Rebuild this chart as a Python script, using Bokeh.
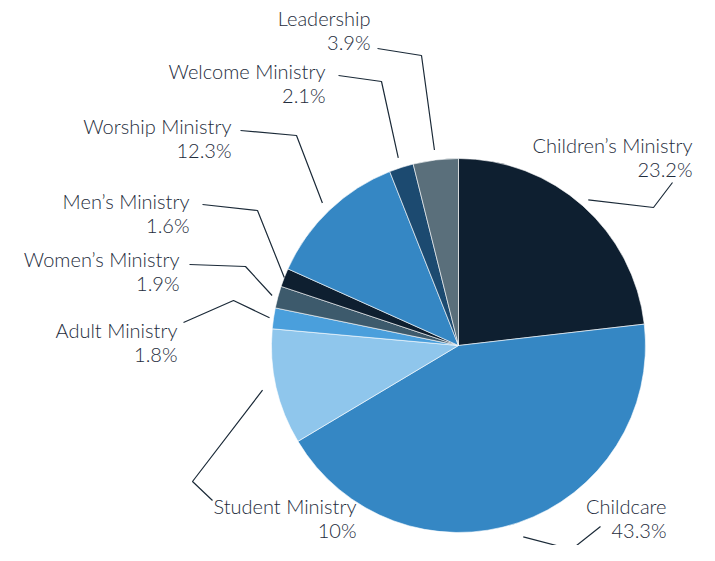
import numpy as np
from bokeh.plotting import figure
from bokeh.models import Range1d, ColumnDataSource
from bokeh.core.properties import value
from bokeh.embed import file_html
from bokeh.resources import INLINE

# ---- data ----
categories = ["Children\u2019s Ministry", "Childcare", "Student Ministry", "Adult Ministry",
              "Women\u2019s Ministry", "Men\u2019s Ministry", "Worship Ministry",
              "Welcome Ministry", "Leadership"]
shares = [23.2, 43.3, 10.0, 1.8, 1.9, 1.6, 12.3, 2.1, 3.9]
pct_labels = ["23.2%", "43.3%", "10%", "1.8%", "1.9%", "1.6%", "12.3%", "2.1%", "3.9%"]
colors = ["#0e1f30", "#3587c4", "#8fc6ec", "#4a9fdc", "#3d5a6c",
          "#0e1f30", "#3587c4", "#1c4a70", "#5a6f7b"]

# ---- layout (pixel coordinates, top-left origin) ----
W, H = 699, 545
SHIFT = -3
CX, CY, R = 458, 348, 187
gaps = [8, 15, 14, 4, 6, 0, 10, 10, 10]
elbows = [(653, 210), (571, 552), (192, 484), (233, 303), (245, 269),
          (257, 213), (296, 138), (381, 84), (421, 58)]
ends = [(672, 185), (600, 529), (212, 503), (183, 325), (189, 267),
        (202, 207), (240, 133), (338, 78), (377, 51)]
anchors = [(692, 147), (666, 508), (356, 508), (177, 332), (179, 261),
           (189, 203), (231, 128), (325, 73), (370, 20)]
LINE_GAP = 24

def fy(py):
    return H - (py + SHIFT)

p = figure(width=W, height=H, x_range=Range1d(0, W), y_range=Range1d(0, H),
           output_backend="svg", toolbar_location=None, min_border=0)
p.axis.visible = False
p.grid.visible = False
p.outline_line_color = None
p.background_fill_color = "white"
p.border_fill_color = "white"

frac = np.array(shares) / np.sum(shares)
cum = np.concatenate([[0], np.cumsum(frac)])
start_ang = np.pi / 2 - cum[1:] * 2 * np.pi
end_ang = np.pi / 2 - cum[:-1] * 2 * np.pi
mid_ang = (start_ang + end_ang) / 2

src = ColumnDataSource(dict(start=start_ang, end=end_ang, color=colors, cat=categories))
p.wedge(x=CX, y=fy(CY), radius=R, start_angle="start", end_angle="end",
        direction="anticlock", fill_color="color", line_color="white", line_width=0.6,
        source=src)

xs, ys = [], []
for i in range(len(categories)):
    rr = R + gaps[i]
    sx = CX + rr * np.cos(mid_ang[i])
    sy = fy(CY) + rr * np.sin(mid_ang[i])
    xs.append([sx, elbows[i][0], ends[i][0]])
    ys.append([sy, fy(elbows[i][1]), fy(ends[i][1])])
p.multi_line(xs=xs, ys=ys, line_color="#1b2a38", line_width=1.2)

lx = [a[0] for a in anchors]
ly1 = [fy(a[1]) for a in anchors]
ly2 = [fy(a[1] + LINE_GAP) for a in anchors]
common = dict(text_align="right", text_baseline="middle", text_font=value("Lato Light"),
              text_font_size="20px", text_color="#1e2c3c")
p.text(x=lx, y=ly1, text=categories, **common)
p.text(x=lx, y=ly2, text=pct_labels, **common)

open("out.html", "w").write(file_html(p, INLINE))
